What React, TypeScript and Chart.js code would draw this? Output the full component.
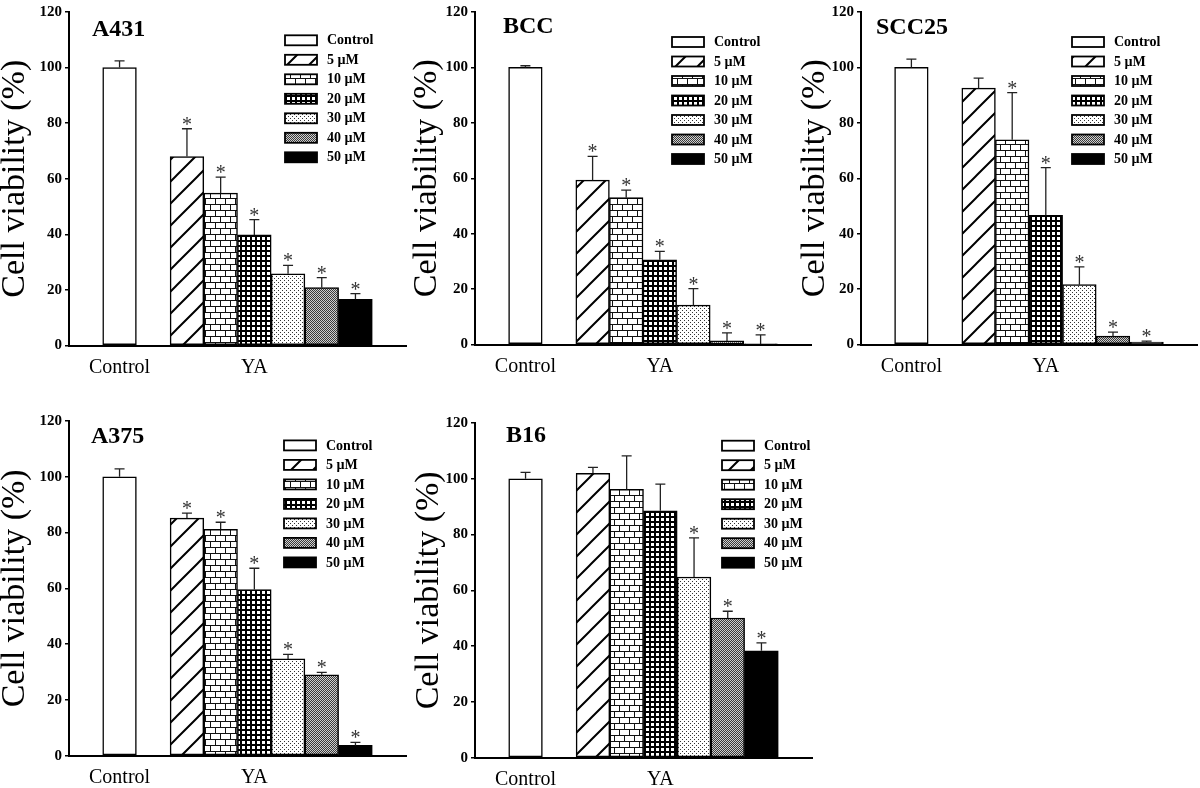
import React, { useEffect, useRef } from 'react';
import { Chart, registerables } from 'chart.js';

Chart.register(...registerables);

// ---------- data ----------
const doseLabels = ['Control', '5 µM', '10 µM', '20 µM', '30 µM', '40 µM', '50 µM'];
// category slots of the x axis (gaps are empty categories)
const xSlots = ['gapA', 'Control', 'gapB', '5 µM', '10 µM', '20 µM', '30 µM', '40 µM', '50 µM', 'gapC'];
const axisGroupLabels: Record<string, string> = { Control: 'Control', '20 µM': 'YA' };
const yTickMin = 0;
const yTickMax = 120;
const yTickStep = 20;

const a431Mean = [100, 68.0, 54.8, 39.8, 25.8, 20.8, 16.6];
const a431Err = [2.4, 10.0, 5.8, 5.5, 3.0, 3.6, 2.1];
const a431Sig = [false, true, true, true, true, true, true];

const bccMean = [100, 59.3, 53.0, 30.6, 14.2, 1.3, 0.2];
const bccErr = [0.6, 8.6, 2.7, 3.0, 6.0, 2.9, 3.3];
const bccSig = [false, true, true, true, true, true, true];

const scc25Mean = [100, 92.5, 73.9, 46.6, 21.6, 3.0, 0.9];
const scc25Err = [3.0, 3.6, 17.0, 17.2, 6.4, 1.5, 0.3];
const scc25Sig = [false, false, true, true, true, true, true];

const a375Mean = [100, 85.2, 81.2, 59.6, 34.7, 29.0, 3.7];
const a375Err = [2.8, 1.8, 2.5, 7.6, 1.6, 0.9, 1.1];
const a375Sig = [false, true, true, true, true, true, true];

const b16Mean = [100, 102.0, 96.2, 88.5, 64.8, 50.1, 38.3];
const b16Err = [2.3, 2.1, 12.0, 9.6, 14.0, 2.4, 2.9];
const b16Sig = [false, false, false, false, true, true, true];

// ---------- layout / style ----------
const SERIF = '"Liberation Serif", "Times New Roman", serif';
const patternKinds = ['white', 'hatch', 'brick', 'grid', 'dots', 'checker', 'black'];

type Panel = {
  name: string;
  mean: number[];
  err: number[];
  sig: boolean[];
  box: { left: number; top: number; w: number; h: number };
  axis: { x: number; top: number; right: number; zero: number };
  titleOff: [number, number];
  legendOff: [number, number];
};

const panels: Panel[] = [
  { name: 'A431', mean: a431Mean, err: a431Err, sig: a431Sig,
    box: { left: 0, top: 0, w: 410, h: 390 }, axis: { x: 69, top: 9, right: 406, zero: 345.5 },
    titleOff: [23, 24], legendOff: [216, 28.3] },
  { name: 'BCC', mean: bccMean, err: bccErr, sig: bccSig,
    box: { left: 412, top: 0, w: 403, h: 390 }, axis: { x: 475, top: 9, right: 811, zero: 344.5 },
    titleOff: [28, 20.5], legendOff: [197, 30] },
  { name: 'SCC25', mean: scc25Mean, err: scc25Err, sig: scc25Sig,
    box: { left: 800, top: 0, w: 400, h: 390 }, axis: { x: 861, top: 9, right: 1197, zero: 344.5 },
    titleOff: [15, 22], legendOff: [211, 30] },
  { name: 'A375', mean: a375Mean, err: a375Err, sig: a375Sig,
    box: { left: 0, top: 409, w: 410, h: 379 }, axis: { x: 69, top: 418.3, right: 406, zero: 755.7 },
    titleOff: [22, 22.4], legendOff: [215, 24.4] },
  { name: 'B16', mean: b16Mean, err: b16Err, sig: b16Sig,
    box: { left: 414, top: 411, w: 402, h: 377 }, axis: { x: 475, top: 420, right: 812, zero: 757.7 },
    titleOff: [31, 19.3], legendOff: [247, 22.7] },
];

function makeFill(kind: string): CanvasPattern | string {
  if (kind === 'white') return '#ffffff';
  if (kind === 'black') return '#000000';
  const c = document.createElement('canvas');
  const g = c.getContext('2d') as CanvasRenderingContext2D;
  if (kind === 'hatch') {
    c.width = 22; c.height = 22;
    g.fillStyle = '#fff'; g.fillRect(0, 0, 22, 22);
    g.strokeStyle = '#000'; g.lineWidth = 2;
    g.beginPath();
    g.moveTo(0, 22); g.lineTo(22, 0);
    g.moveTo(-2, 2); g.lineTo(2, -2);
    g.moveTo(20, 24); g.lineTo(24, 20);
    g.stroke();
  } else if (kind === 'brick') {
    c.width = 10; c.height = 12;
    g.fillStyle = '#fff'; g.fillRect(0, 0, 10, 12);
    g.fillStyle = '#111';
    g.fillRect(0, 0, 10, 1); g.fillRect(0, 6, 10, 1);
    g.fillRect(0, 0, 1, 6); g.fillRect(5, 6, 1, 6);
  } else if (kind === 'grid') {
    c.width = 5; c.height = 5;
    g.fillStyle = '#000'; g.fillRect(0, 0, 5, 5);
    g.fillStyle = '#fff'; g.fillRect(2, 2, 3, 3);
  } else if (kind === 'dots') {
    c.width = 4; c.height = 4;
    g.fillStyle = '#fff'; g.fillRect(0, 0, 4, 4);
    g.fillStyle = '#333'; g.fillRect(0, 0, 1, 1); g.fillRect(2, 2, 1, 1);
  } else if (kind === 'checker') {
    c.width = 2; c.height = 2;
    g.fillStyle = '#cfcfcf'; g.fillRect(0, 0, 2, 2);
    g.fillStyle = '#3a3a3a'; g.fillRect(0, 0, 1, 1); g.fillRect(1, 1, 1, 1);
  }
  const pat = g.createPattern(c, 'repeat');
  return pat || '#888';
}

function overlayPlugin(p: Panel, fills: (CanvasPattern | string)[]) {
  return {
    id: 'overlay',
    afterDatasetsDraw(chart: any) {
      const ctx: CanvasRenderingContext2D = chart.ctx;
      const yScale = chart.scales.y;
      ctx.save();
      chart.data.datasets.forEach((ds: any, di: number) => {
        const meta = chart.getDatasetMeta(di);
        const slot = xSlots.indexOf(doseLabels[di]);
        const el = meta.data[slot];
        if (!el) return;
        const v = p.mean[di];
        const e = p.err[di];
        const top = yScale.getPixelForValue(v + e);
        const barTop = yScale.getPixelForValue(v);
        ctx.strokeStyle = '#222';
        ctx.lineWidth = 1.3;
        ctx.beginPath();
        ctx.moveTo(el.x, barTop);
        ctx.lineTo(el.x, top);
        ctx.moveTo(el.x - 5, top);
        ctx.lineTo(el.x + 5, top);
        ctx.stroke();
        if (p.sig[di]) {
          ctx.font = `20px ${SERIF}`;
          ctx.fillStyle = '#333';
          ctx.textAlign = 'center';
          ctx.textBaseline = 'alphabetic';
          const m = ctx.measureText('*');
          const base = top - 4 - m.actualBoundingBoxDescent;
          ctx.fillText('*', el.x, base);
        }
      });
      ctx.restore();
    },
    afterDraw(chart: any) {
      const ctx: CanvasRenderingContext2D = chart.ctx;
      const area = chart.chartArea;
      ctx.save();
      // panel title
      ctx.font = `bold 24px ${SERIF}`;
      ctx.fillStyle = '#000';
      ctx.textAlign = 'left';
      ctx.textBaseline = 'alphabetic';
      ctx.fillText(p.name, area.left + p.titleOff[0], area.top + p.titleOff[1]);
      // legend
      const bx = area.left + p.legendOff[0];
      doseLabels.forEach((lab, i) => {
        const cy = area.top + p.legendOff[1] + i * 19.5;
        ctx.fillStyle = fills[i] as any;
        ctx.fillRect(bx, cy - 5, 32, 10);
        ctx.strokeStyle = '#000';
        ctx.lineWidth = 1.8;
        ctx.strokeRect(bx, cy - 5, 32, 10);
        ctx.fillStyle = '#000';
        ctx.font = `bold 14px ${SERIF}`;
        ctx.textBaseline = 'middle';
        ctx.fillText(lab, bx + 42, cy + 0.5);
      });
      ctx.restore();
    },
  };
}

function PanelChart({ p }: { p: Panel }) {
  const ref = useRef<HTMLCanvasElement | null>(null);
  useEffect(() => {
    const canvas = ref.current;
    if (!canvas) return;
    const fills = patternKinds.map(makeFill);
    const yW = p.axis.x - p.box.left;
    const padTop = p.axis.top - p.box.top;
    const padRight = p.box.w - (p.axis.right - p.box.left);
    const xH = p.box.h - (p.axis.zero - p.box.top);
    const chart = new Chart(canvas, {
      type: 'bar',
      data: {
        labels: xSlots,
        datasets: doseLabels.map((d, i) => ({
          label: d,
          data: xSlots.map((s) => (s === d ? p.mean[i] : null)),
          backgroundColor: fills[i] as any,
          borderColor: '#000',
          borderWidth: 1.5,
          borderSkipped: false,
          barPercentage: 1,
          categoryPercentage: 1,
          grouped: false,
        })),
      },
      options: {
        responsive: false,
        animation: false,
        events: [],
        layout: { padding: { top: padTop, right: padRight, left: 0, bottom: 0 } },
        plugins: { legend: { display: false }, tooltip: { enabled: false } },
        scales: {
          x: {
            type: 'category',
            offset: true,
            grid: { display: false, drawTicks: false },
            border: { display: true, color: '#000', width: 2 },
            ticks: {
              autoSkip: false,
              maxRotation: 0,
              minRotation: 0,
              padding: 10,
              color: '#000',
              font: { family: SERIF, size: 20 },
              callback: (_v: any, i: number) => axisGroupLabels[xSlots[i]] ?? '',
            },
            afterFit: (s: any) => { s.height = xH; },
          },
          y: {
            min: yTickMin,
            max: yTickMax,
            ticks: { stepSize: yTickStep, padding: 3, color: '#000', font: { family: SERIF, size: 15, weight: 'bold' } },
            grid: { display: true, drawOnChartArea: false, drawTicks: true, tickLength: 4, color: '#000', lineWidth: 1.5 },
            border: { display: true, color: '#000', width: 2 },
            title: {
              display: true,
              text: 'Cell viability (%)',
              color: '#000',
              padding: 0,
              font: { family: SERIF, size: 34, lineHeight: '30px' as any },
            },
            afterFit: (s: any) => { s.width = yW; },
          },
        },
      } as any,
      plugins: [overlayPlugin(p, fills)],
    });
    return () => chart.destroy();
  }, [p]);
  return (
    <div style={{ position: 'absolute', left: p.box.left, top: p.box.top, width: p.box.w, height: p.box.h }}>
      <canvas ref={ref} width={p.box.w} height={p.box.h} style={{ width: p.box.w, height: p.box.h, display: 'block' }} />
    </div>
  );
}

export default function App() {
  return (
    <div style={{ position: 'fixed', left: 0, top: 0, width: 1200, height: 788, overflow: 'hidden', background: '#fff' }}>
      {panels.map((p) => (
        <PanelChart key={p.name} p={p} />
      ))}
    </div>
  );
}
